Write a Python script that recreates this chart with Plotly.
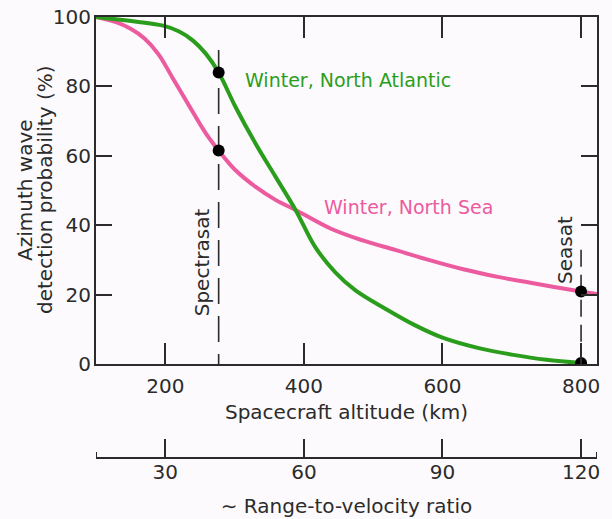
import plotly.graph_objects as go

# ---- data ----
alt_atlantic = [100, 148, 197, 220, 240, 259, 277, 301, 330, 359, 388, 416, 445, 474, 517, 560, 600, 654, 700, 750, 800]
prob_atlantic = [100, 98.9, 97.5, 95.8, 93.2, 89.3, 84.0, 74.2, 63.6, 54.0, 44.4, 33.8, 26.5, 21.3, 16.0, 11.2, 7.6, 4.5, 2.7, 1.2, 0.3]

alt_northsea = [100, 129, 150, 170, 190, 211, 235, 259, 277, 301, 330, 359, 388, 440, 485, 533, 580, 630, 680, 727, 800, 823]
prob_northsea = [100, 98.5, 96.6, 93.8, 89.3, 82.3, 74.2, 66.3, 61.5, 55.9, 51.1, 47.3, 44.4, 38.9, 35.6, 32.8, 30.0, 27.3, 25.1, 23.4, 20.9, 20.2]

spectrasat_alt = 277
spectrasat_probs = [84.0, 61.5]
spectrasat_line_top = 90.5
seasat_alt = 800
seasat_probs = [20.9, 0.3]
seasat_line_top = 32.9

alt_ticks = [200, 400, 600, 800]
prob_ticks = [0, 20, 40, 60, 80, 100]
ratio_ticks = [30, 60, 90, 120]
alt_range = [100, 823]
ratio_per_km = 0.15

GREEN = "#2a9e1c"
PINK = "#ec5a9f"
INK = "#2b2b2b"
BG = "#fcfafc"
FONT = "DejaVu Sans"

W, H = 612, 519
ml, mr, mt, mb = 96, 15, 17, 60
pw = W - ml - mr
ph = H - mt - mb


def py(pix):
    return (H - mb - pix) / ph


def px(pix):
    return (pix - ml) / pw


fig = go.Figure()

# dashed satellite lines
fig.add_trace(go.Scatter(x=[spectrasat_alt, spectrasat_alt], y=[spectrasat_line_top, 0],
                         mode="lines", line=dict(color=INK, width=1.6, dash="26px,12px"),
                         showlegend=False, hoverinfo="skip"))
fig.add_trace(go.Scatter(x=[seasat_alt, seasat_alt], y=[seasat_line_top, 0],
                         mode="lines", line=dict(color=INK, width=1.6, dash="17px,8px"),
                         showlegend=False, hoverinfo="skip"))

# curves
fig.add_trace(go.Scatter(x=alt_northsea, y=prob_northsea, mode="lines",
                         line=dict(color=PINK, width=4, shape="spline", smoothing=1.0),
                         name="Winter, North Sea", showlegend=False))
fig.add_trace(go.Scatter(x=alt_atlantic, y=prob_atlantic, mode="lines",
                         line=dict(color=GREEN, width=4, shape="spline", smoothing=1.0),
                         name="Winter, North Atlantic", showlegend=False))

# satellite points
fig.add_trace(go.Scatter(x=[spectrasat_alt] * len(spectrasat_probs) + [seasat_alt] * len(seasat_probs),
                         y=spectrasat_probs + seasat_probs, mode="markers",
                         marker=dict(color="black", size=12), showlegend=False))

# dummy trace for the secondary (ratio) axis
fig.add_trace(go.Scatter(x=[None], y=[None], xaxis="x2", yaxis="y", showlegend=False))

fig.add_annotation(x=464, y=81.8, text="Winter, North Atlantic", showarrow=False,
                   font=dict(family=FONT, size=19, color=GREEN))
fig.add_annotation(x=550.6, y=45.2, text="Winter, North Sea", showarrow=False,
                   font=dict(family=FONT, size=19, color=PINK))
fig.add_annotation(x=253.4, y=29.4, text="Spectrasat", showarrow=False, textangle=-90,
                   font=dict(family=FONT, size=20, color=INK))
fig.add_annotation(x=777, y=32.9, text="Seasat", showarrow=False, textangle=-90,
                   font=dict(family=FONT, size=20, color=INK))
fig.add_annotation(x=px(25), y=py(190), xref="paper", yref="paper", text="Azimuth wave",
                   showarrow=False, textangle=-90, xanchor="center", yanchor="middle",
                   font=dict(family=FONT, size=20, color=INK))
fig.add_annotation(x=px(45), y=py(190), xref="paper", yref="paper", text="detection probability (%)",
                   showarrow=False, textangle=-90, xanchor="center", yanchor="middle",
                   font=dict(family=FONT, size=20, color=INK))

axis_common = dict(showgrid=False, zeroline=False, showline=True, linecolor=INK, linewidth=2,
                   ticks="inside", tickcolor=INK, tickwidth=2,
                   tickfont=dict(family=FONT, size=20, color=INK))

fig.update_layout(
    width=W, height=H,
    margin=dict(l=ml, r=mr, t=mt, b=mb),
    paper_bgcolor=BG, plot_bgcolor=BG,
    font=dict(family=FONT, color=INK),
    xaxis=dict(range=alt_range, tickvals=alt_ticks, ticklen=21, mirror="ticks",
               title=dict(text="Spacecraft altitude (km)", font=dict(family=FONT, size=20, color=INK), standoff=8),
               automargin=False, ticklabelstandoff=3, **axis_common),
    yaxis=dict(range=[0, 100], tickvals=prob_ticks, ticklen=16, mirror="ticks",
               domain=[py(364), 1], automargin=False, ticklabelstandoff=-1, **axis_common),
    xaxis2=dict(range=[alt_range[0] * ratio_per_km, alt_range[1] * ratio_per_km], tickvals=ratio_ticks,
                ticklen=18, overlaying="x", anchor="free", position=py(458), side="bottom",
                title=dict(text="∼ Range-to-velocity ratio", font=dict(family=FONT, size=20, color=INK), standoff=15),
                automargin=False, ticklabelstandoff=-4, **axis_common),
)

# small upturned ends of the ratio axis
for xe in [alt_range[0] * ratio_per_km, alt_range[1] * ratio_per_km]:
    fig.add_shape(type="line", xref="x2", yref="paper", x0=xe, x1=xe, y0=py(458), y1=py(452),
                  line=dict(color=INK, width=2))

fig.write_html("out.html")
